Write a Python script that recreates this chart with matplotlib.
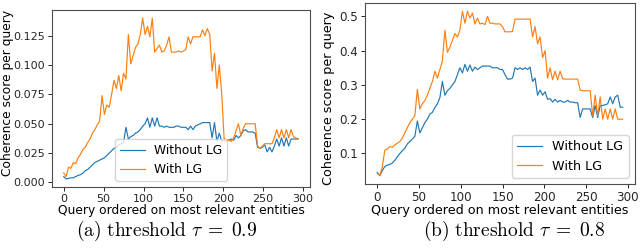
import numpy as np
import matplotlib
matplotlib.use("Agg")
import matplotlib.pyplot as plt

plt.rcParams['mathtext.fontset'] = 'cm'

# ---- data (x step of 3 queries, 0..294) ----
step = 3
a_without = [0.005, 0.003, 0.0035, 0.004, 0.004, 0.005, 0.006, 0.0066, 0.008, 0.010,
             0.011, 0.013, 0.015, 0.017, 0.018, 0.019, 0.020, 0.021, 0.023, 0.025,
             0.027, 0.029, 0.030, 0.032, 0.033, 0.034, 0.047, 0.037, 0.039, 0.040,
             0.042, 0.043, 0.045, 0.048, 0.050, 0.055, 0.047, 0.055, 0.048, 0.055,
             0.048, 0.048, 0.047, 0.048, 0.047, 0.047, 0.047, 0.048, 0.048, 0.047,
             0.047, 0.047, 0.045, 0.048, 0.045, 0.048, 0.049, 0.050, 0.051, 0.051,
             0.051, 0.051, 0.038, 0.051, 0.035, 0.042, 0.035, 0.036, 0.036, 0.036,
             0.037, 0.036, 0.040, 0.038, 0.040, 0.044, 0.045, 0.043, 0.043, 0.043,
             0.042, 0.030, 0.029, 0.030, 0.032, 0.026, 0.030, 0.026, 0.031, 0.037,
             0.031, 0.038, 0.031, 0.038, 0.031, 0.037, 0.037, 0.037, 0.037]
a_with = [0.008, 0.005, 0.013, 0.012, 0.017, 0.016, 0.021, 0.024, 0.028, 0.030,
          0.034, 0.037, 0.042, 0.045, 0.049, 0.052, 0.074, 0.058, 0.066, 0.064,
          0.075, 0.087, 0.080, 0.091, 0.078, 0.093, 0.088, 0.126, 0.101, 0.108,
          0.115, 0.118, 0.126, 0.140, 0.126, 0.133, 0.124, 0.140, 0.111, 0.114,
          0.117, 0.111, 0.112, 0.117, 0.124, 0.111, 0.111, 0.111, 0.112, 0.111,
          0.112, 0.113, 0.124, 0.118, 0.124, 0.124, 0.124, 0.124, 0.130, 0.125,
          0.131, 0.126, 0.095, 0.110, 0.080, 0.100, 0.076, 0.038, 0.035, 0.036,
          0.035, 0.038, 0.044, 0.050, 0.040, 0.046, 0.050, 0.050, 0.050, 0.050,
          0.050, 0.031, 0.029, 0.031, 0.033, 0.033, 0.033, 0.033, 0.038, 0.045,
          0.038, 0.045, 0.038, 0.045, 0.038, 0.045, 0.039, 0.038, 0.037]
b_without = [0.045, 0.035, 0.050, 0.062, 0.066, 0.068, 0.072, 0.080, 0.090, 0.100,
             0.108, 0.115, 0.128, 0.135, 0.142, 0.150, 0.195, 0.160, 0.175, 0.190,
             0.200, 0.215, 0.220, 0.234, 0.245, 0.263, 0.310, 0.270, 0.283, 0.290,
             0.300, 0.310, 0.330, 0.350, 0.335, 0.360, 0.340, 0.358, 0.340, 0.352,
             0.345, 0.350, 0.355, 0.355, 0.355, 0.355, 0.350, 0.350, 0.350, 0.345,
             0.345, 0.330, 0.317, 0.317, 0.320, 0.350, 0.345, 0.350, 0.345, 0.350,
             0.345, 0.352, 0.310, 0.320, 0.270, 0.285, 0.270, 0.280, 0.258, 0.260,
             0.250, 0.258, 0.250, 0.255, 0.250, 0.250, 0.255, 0.250, 0.250, 0.248,
             0.248, 0.205, 0.230, 0.230, 0.230, 0.230, 0.205, 0.240, 0.205, 0.240,
             0.240, 0.242, 0.245, 0.265, 0.245, 0.265, 0.270, 0.235, 0.235]
b_with = [0.042, 0.036, 0.060, 0.110, 0.113, 0.120, 0.118, 0.125, 0.130, 0.135,
          0.145, 0.160, 0.175, 0.190, 0.200, 0.210, 0.287, 0.230, 0.245, 0.254,
          0.270, 0.290, 0.310, 0.340, 0.320, 0.345, 0.370, 0.460, 0.395, 0.410,
          0.430, 0.450, 0.440, 0.460, 0.515, 0.480, 0.515, 0.495, 0.510, 0.478,
          0.495, 0.478, 0.480, 0.476, 0.500, 0.480, 0.480, 0.478, 0.478, 0.478,
          0.470, 0.455, 0.455, 0.455, 0.456, 0.492, 0.492, 0.492, 0.492, 0.492,
          0.492, 0.492, 0.440, 0.470, 0.420, 0.440, 0.380, 0.400, 0.320, 0.350,
          0.315, 0.340, 0.315, 0.340, 0.318, 0.317, 0.317, 0.317, 0.317, 0.317,
          0.317, 0.285, 0.283, 0.283, 0.283, 0.283, 0.210, 0.270, 0.210, 0.265,
          0.200, 0.230, 0.200, 0.230, 0.200, 0.230, 0.200, 0.200, 0.200]

xticks = [0, 50, 100, 150, 200, 250, 300]
a_yticks = [0.000, 0.025, 0.050, 0.075, 0.100, 0.125]
b_yticks = [0.1, 0.2, 0.3, 0.4, 0.5]
labels = ["Without LG", "With LG"]
captions = [r"$\mathrm{(a)\ threshold}\ \tau\;=\;0.9$", r"$\mathrm{(b)\ threshold}\ \tau\;=\;0.8$"]

fig = plt.figure(figsize=(6.4, 2.49), dpi=100)
ax1 = fig.add_axes([52/640, 1-187/249, 258/640, 177/249])
ax2 = fig.add_axes([365/640, 1-184/249, 270/640, 181/249])

for ax, s1, s2, yt, fmt, fs, tfs in [(ax1, a_without, a_with, a_yticks, "{:.3f}", 8.8, 8.0),
                                     (ax2, b_without, b_with, b_yticks, "{:.1f}", 9.2, 8.6)]:
    x1 = np.arange(len(s1)) * step
    x2 = np.arange(len(s2)) * step
    ax.plot(x1, s1, color='tab:blue', lw=0.85, label=labels[0])
    ax.plot(x2, s2, color='tab:orange', lw=0.85, label=labels[1])
    ax.set_xticks(xticks)
    ax.set_yticks(yt)
    ax.set_yticklabels([fmt.format(v) for v in yt])
    ax.tick_params(labelsize=tfs, length=3, width=0.7, colors='0.15', pad=2)
    ax.set_xlabel("Query ordered on most relevant entities", fontsize=fs, labelpad=0)
    ax.set_ylabel("Coherence score per query", fontsize=fs)
    for sp in ax.spines.values():
        sp.set_color('0.3')
        sp.set_linewidth(0.8)
    ax.legend(loc=(0.245, 0.035) if ax is ax1 else 'lower right', fontsize=fs, handlelength=2.0)

ax1.yaxis.set_label_coords(-0.149, 0.534)
ax2.yaxis.set_label_coords(-0.111, 0.475)

fig.text(167/640, 1-231/249, captions[0], ha='center', va='center', fontsize=14)
fig.text(514/640, 1-231/249, captions[1], ha='center', va='center', fontsize=14)

fig.savefig("out.png", dpi=100)
